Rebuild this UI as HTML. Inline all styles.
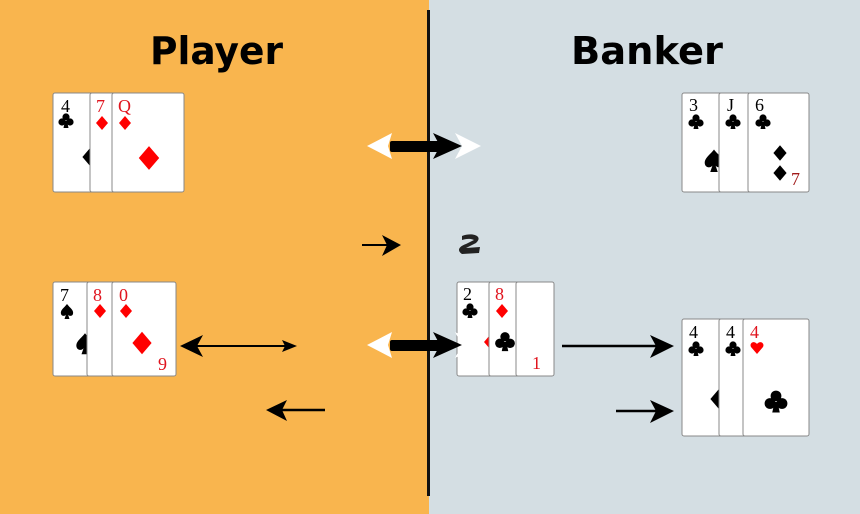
<!DOCTYPE html>
<html><head><meta charset="utf-8"><style>
html,body{margin:0;padding:0}
body{width:860px;height:514px;overflow:hidden}
svg{display:block}
.r{font-family:"Liberation Serif",serif;font-size:18px}
.t{font-family:"DejaVu Sans","Liberation Sans",sans-serif;font-weight:bold;font-size:38px}
.c{fill:#fff;stroke:#888;stroke-width:1}
</style></head><body>
<svg width="860" height="514" viewBox="0 0 860 514" xmlns="http://www.w3.org/2000/svg">
<defs>
<g id="club"><circle cx="0" cy="-4" r="3.6"/><circle cx="-4" cy="1" r="3.6"/><circle cx="4" cy="1" r="3.6"/><path d="M-1 0 L1 0 L2.5 7 L-2.5 7Z"/></g>
<g id="spade"><path d="M0 -7 C3 -3 7 -1 6 3 C5 6 1 5 0.8 3 L2.5 8 L-2.5 8 L-0.8 3 C-1 5 -5 6 -6 3 C-7 -1 -3 -3 0 -7Z"/></g>
<g id="dia"><path d="M0 -7 L6 0 L0 7 L-6 0Z"/></g>
<g id="heart"><path d="M0 6 L-6 -1 C-8 -5 -3 -8 0 -4 C3 -8 8 -5 6 -1Z"/></g>
</defs>
<rect x="0" y="0" width="429" height="514" fill="#F9B54E"/>
<rect x="429" y="0" width="431" height="514" fill="#D4DEE3"/>
<rect x="427" y="10" width="3" height="486" fill="#111"/>
<text class="t" x="150" y="64" textLength="133" lengthAdjust="spacingAndGlyphs">Player</text>
<text class="t" x="571" y="64" textLength="152" lengthAdjust="spacingAndGlyphs">Banker</text>

<!-- player row1 -->
<rect class="c" x="53" y="93" width="60" height="99" rx="2"/>
<text class="r" x="61" y="112">4</text><use href="#club" x="66" y="121"/>
<use href="#dia" transform="translate(92 157) scale(1.6)"/>
<rect class="c" x="90" y="93" width="40" height="99" rx="2"/>
<text class="r" x="96" y="112" fill="#e0141e">7</text><use href="#dia" x="102" y="123" fill="#f00"/>
<rect class="c" x="112" y="93" width="72" height="99" rx="2"/>
<text class="r" x="118" y="112" fill="#e0141e">Q</text><use href="#dia" x="125" y="123" fill="#f00"/>
<use href="#dia" transform="translate(149 158) scale(1.7)" fill="#f00"/>
<!-- player row2 -->
<rect class="c" x="53" y="282" width="50" height="94" rx="2"/>
<text class="r" x="60" y="301">7</text><use href="#spade" x="67" y="311"/>
<use href="#spade" transform="translate(85 343) scale(1.4)"/>
<rect class="c" x="87" y="282" width="40" height="94" rx="2"/>
<text class="r" x="93" y="301" fill="#e0141e">8</text><use href="#dia" x="100" y="311" fill="#f00"/>
<rect class="c" x="112" y="282" width="64" height="94" rx="2"/>
<text class="r" x="119" y="301" fill="#e0141e">0</text><use href="#dia" x="126" y="311" fill="#f00"/>
<use href="#dia" transform="translate(142 343) scale(1.6)" fill="#f00"/>
<text class="r" x="158" y="370" fill="#e0141e">9</text>
<!-- banker row1 -->
<rect class="c" x="682" y="93" width="50" height="99" rx="2"/>
<text class="r" x="689" y="111">3</text><use href="#club" x="696" y="122"/>
<use href="#spade" transform="translate(714 160) scale(1.5)"/>
<rect class="c" x="719" y="93" width="40" height="99" rx="2"/>
<text class="r" x="727" y="111">J</text><use href="#club" x="733" y="122"/>
<rect class="c" x="748" y="93" width="61" height="99" rx="2"/>
<text class="r" x="755" y="111">6</text><use href="#club" x="763" y="122"/>
<use href="#dia" transform="translate(780 153) scale(1.1)"/>
<use href="#dia" transform="translate(780 173) scale(1.1)"/>
<text class="r" x="791" y="185" fill="#a01818">7</text>
<!-- banker row2 -->
<rect class="c" x="457" y="282" width="40" height="94" rx="2"/>
<text class="r" x="463" y="300">2</text><use href="#club" x="470" y="311"/>
<use href="#dia" x="490" y="342" fill="#f00"/>
<rect class="c" x="489" y="282" width="35" height="94" rx="2"/>
<text class="r" x="495" y="300" fill="#e0141e">8</text><use href="#dia" x="502" y="311" fill="#f00"/>
<use href="#club" transform="translate(505 342) scale(1.3)"/>
<rect class="c" x="516" y="282" width="38" height="94" rx="2"/>
<text class="r" x="532" y="369" fill="#e0141e">1</text>
<!-- banker row3 -->
<rect class="c" x="682" y="319" width="50" height="117" rx="2"/>
<text class="r" x="689" y="338">4</text><use href="#club" x="696" y="349"/>
<use href="#dia" transform="translate(720 399) scale(1.6)"/>
<rect class="c" x="719" y="319" width="40" height="117" rx="2"/>
<text class="r" x="726" y="338">4</text><use href="#club" x="733" y="349"/>
<rect class="c" x="743" y="319" width="66" height="117" rx="2"/>
<text class="r" x="750" y="338" fill="#e0141e">4</text><use href="#heart" x="757" y="348" fill="#f00"/>
<use href="#club" transform="translate(776 402) scale(1.5)"/>

<!-- thick arrows -->
<g>
<path d="M367 146 L392 133 L388 146 L392 159Z" fill="#fff"/>
<rect x="390" y="141" width="50" height="11" rx="2" fill="#000"/>
<path d="M433 133 L462 146 L433 159 L440 146Z" fill="#000"/>
<path d="M455 133 L481 146 L455 159 L462 146Z" fill="#fff"/>
</g>
<g>
<path d="M367 345 L392 332 L388 345 L392 358Z" fill="#fff"/>
<rect x="390" y="340" width="50" height="11" rx="2" fill="#000"/>
<path d="M433 332 L462 345 L433 358 L440 345Z" fill="#000"/>
<path d="M455 332 L481 345 L455 358 L462 345Z" fill="#fff"/>
</g>
<!-- thin arrows -->
<g fill="#000" stroke="#000">
<line x1="362" y1="245" x2="390" y2="245" stroke-width="2"/>
<path d="M382 235 L401 245 L382 256 L387 245Z" stroke="none"/>
<line x1="190" y1="346" x2="290" y2="346" stroke-width="2"/>
<path d="M180 346 L203 335 L197 346 L203 357Z" stroke="none"/>
<path d="M297 346 L282 340 L285 346 L282 352Z" stroke="none"/>
<line x1="278" y1="410" x2="325" y2="410" stroke-width="2.5"/>
<path d="M266 410 L287 400 L282 410 L287 421Z" stroke="none"/>
<line x1="562" y1="346" x2="660" y2="346" stroke-width="2.5"/>
<path d="M674 346 L650 335 L656 346 L650 358Z" stroke="none"/>
<line x1="616" y1="411" x2="660" y2="411" stroke-width="2.5"/>
<path d="M674 411 L650 400 L656 411 L650 423Z" stroke="none"/>
</g>
<path d="M462 236 C472 232 484 236 476 243 L466 248 L480 247 L479 253 L462 254 C456 250 460 246 466 244 L474 240 C470 238 465 239 462 240Z" fill="#222"/>
</svg>
</body></html>
